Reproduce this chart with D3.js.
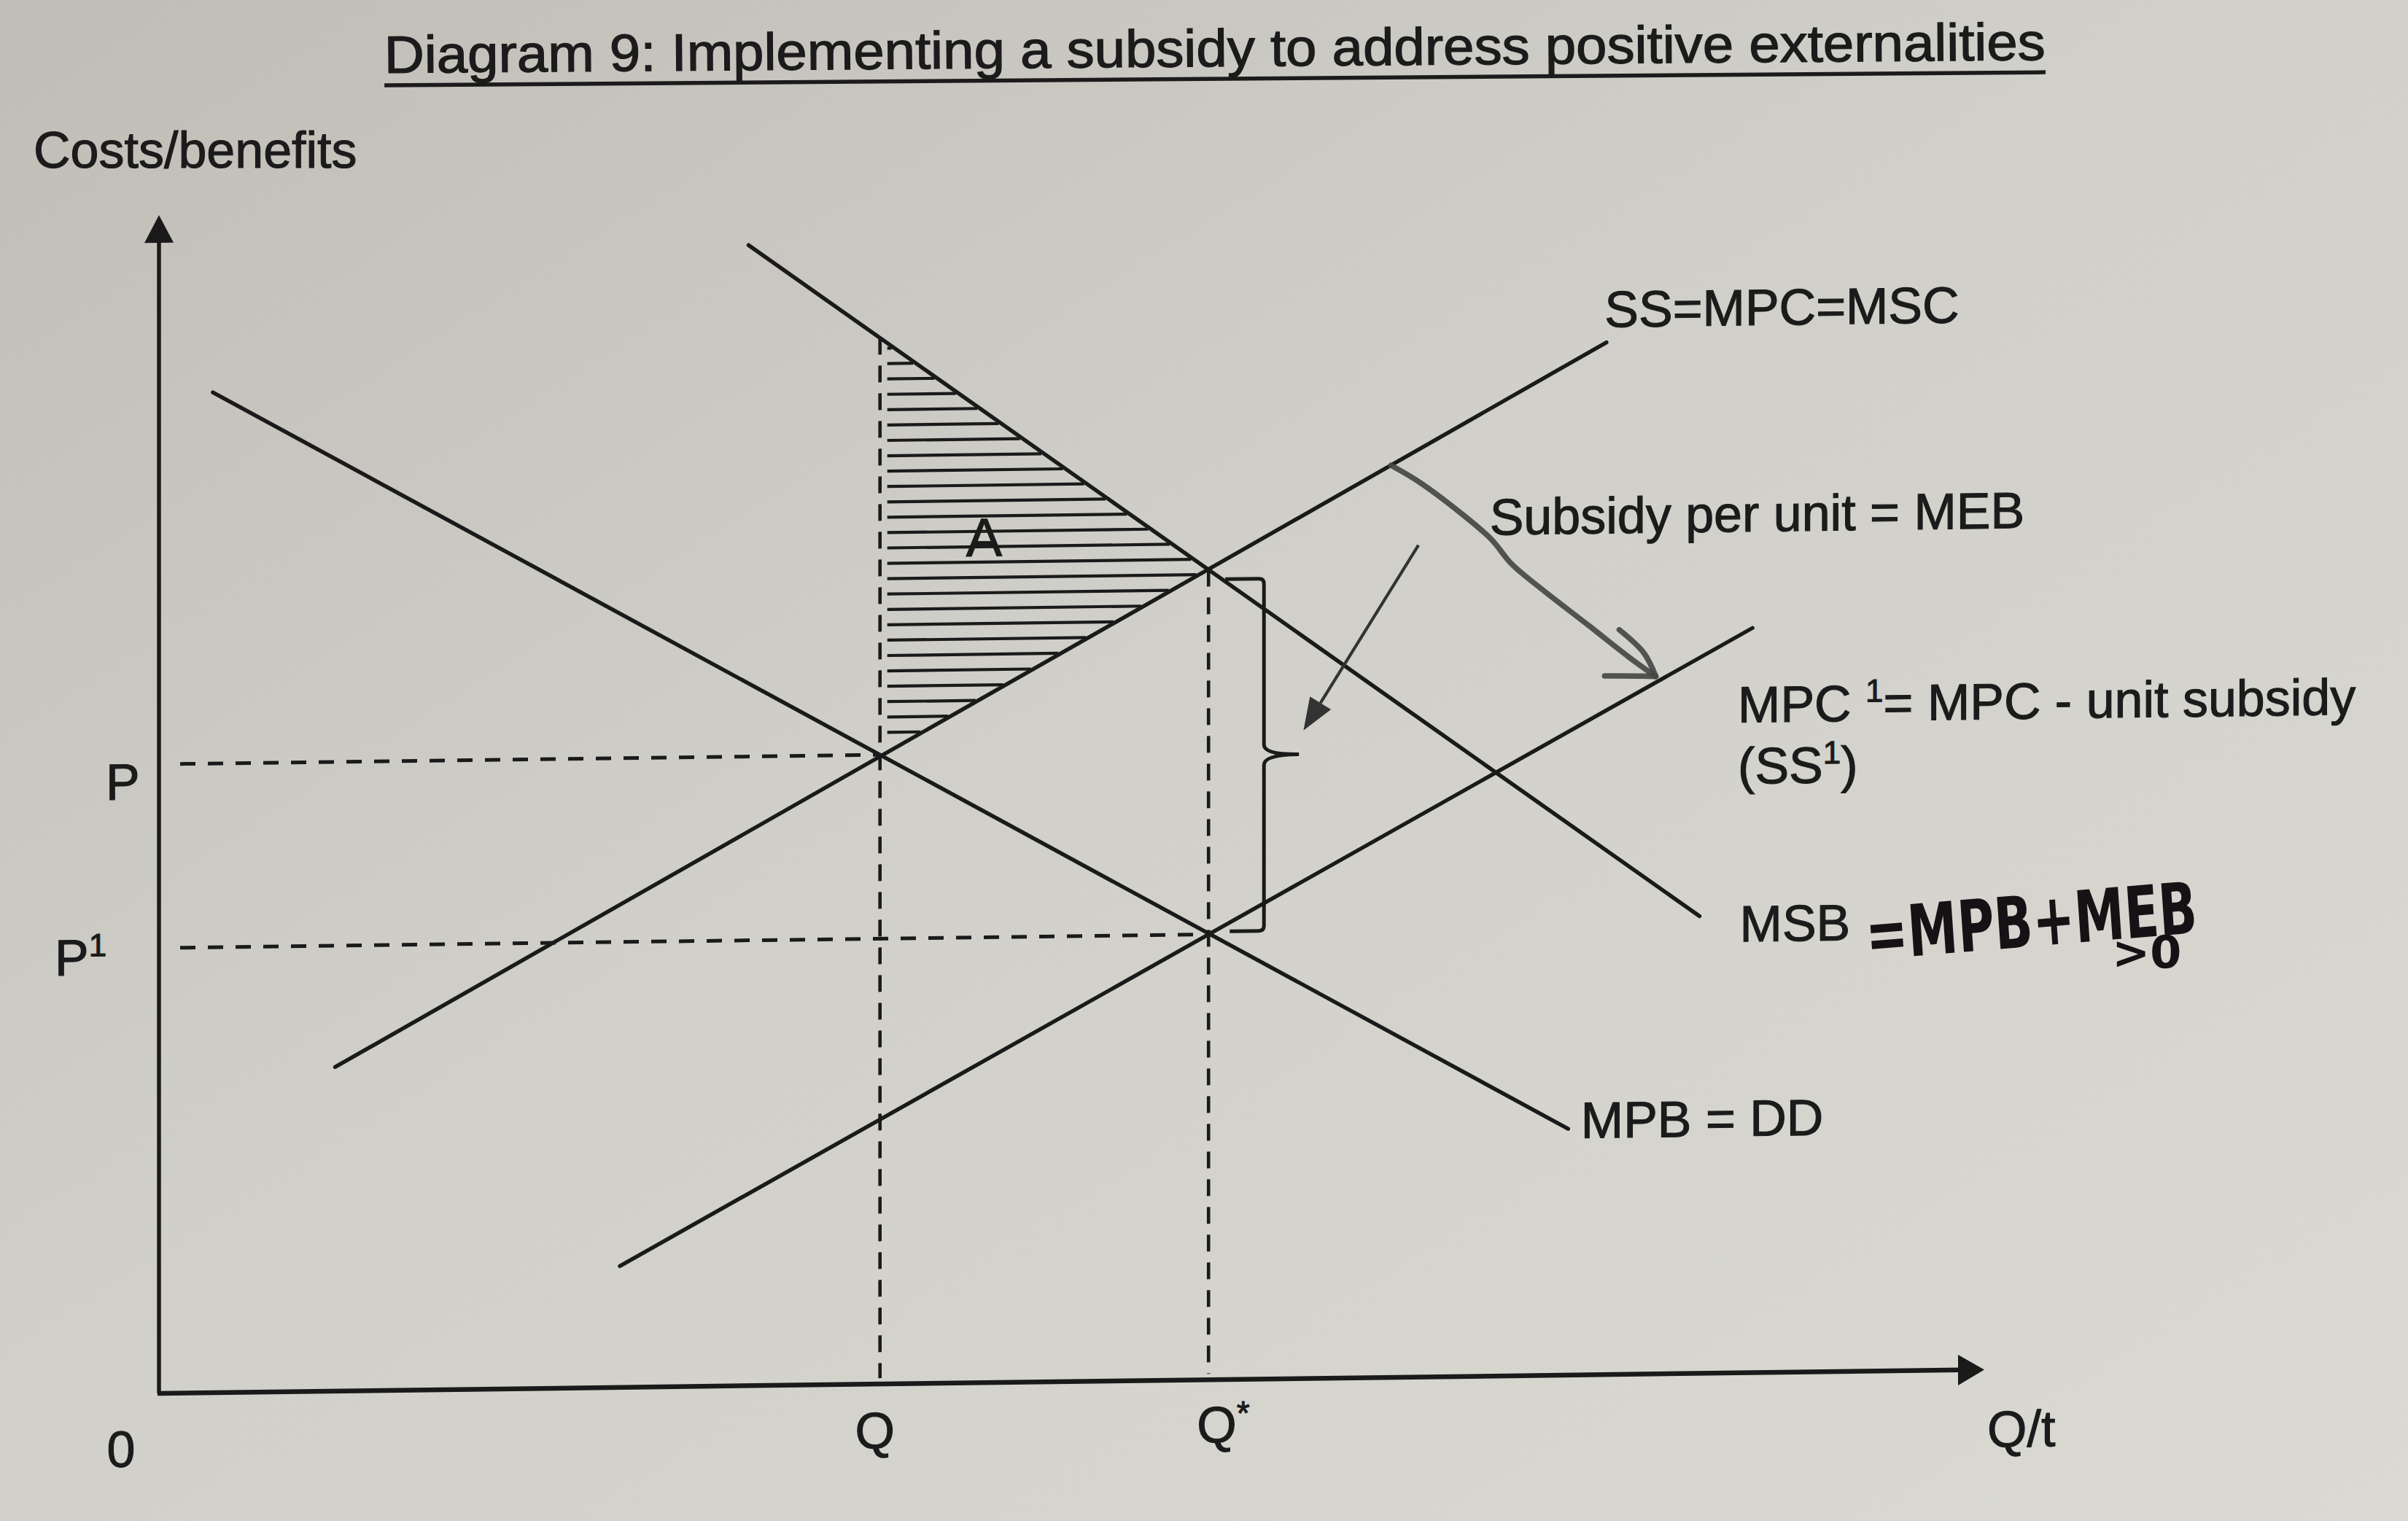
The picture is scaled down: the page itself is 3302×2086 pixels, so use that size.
<!DOCTYPE html>
<html><head><meta charset="utf-8">
<script src="https://cdn.jsdelivr.net/npm/d3@7"></script>
<style>html,body{margin:0;padding:0;background:#d0cec8;} svg{display:block;}</style>
</head><body>
<svg id="c" width="3302" height="2086"></svg>
<script>
// ---------------- data (axis units 0..100) ----------------
const curveNames   = ["MPB = DD", "MSB", "SS=MPC=MSC", "MPC1"];
const curveStartQ  = [2.95, 32.3, 9.65, 25.25];
const curveStartP  = [84.9, 96.8, 27.5, 10.3];
const curveEndQ    = [77.2, 84.4, 79.3, 87.3];
const curveEndP    = [20.9, 38.8, 87.6, 63.2];
const quantityNames  = ["Q", "Q*"];
const quantityValues = [39.5, 57.5];
const priceNames   = ["P", "P1"];
const priceValues  = [53.4, 37.8];
const hatchFrom = 55.3, hatchStep = 1.304;   // hatching rows of area A
const subsidyCurve = [[67.5,77.4],[69.0,76.0],[71.3,73.3],[73.0,71.0],[74.1,68.9],[75.7,66.8],[78.4,63.5],[80.5,60.9],[82.0,59.2]];
const subsidyHeadArms = [[80.0,63.2],[79.2,59.3]];
const pointerArrow = [[69.0,70.6],[62.7,55.0]];

// ---------------- setup ----------------
const W = 3302, H = 2086;
const FONT = "'Liberation Sans', Arial, Helvetica, sans-serif";
const INK = "#1a1a1a";
const svg = d3.select("#c");
const defs = svg.append("defs");
const grad = defs.append("linearGradient").attr("id","paper")
  .attr("x1","0").attr("y1","0").attr("x2","1").attr("y2","1");
grad.append("stop").attr("offset","0").attr("stop-color","#c0bdb6");
grad.append("stop").attr("offset","0.45").attr("stop-color","#d0cfc9");
grad.append("stop").attr("offset","1").attr("stop-color","#dadad3");
svg.append("rect").attr("width",W).attr("height",H).attr("fill","url(#paper)");

const xs = d3.scaleLinear().domain([0,100]).range([0,2503]);
const ys = d3.scaleLinear().domain([0,100]).range([0,-1616]);
const g = svg.append("g").attr("transform","translate(218,1911) skewY(-0.745)");

const yOn = (i,q) => curveStartP[i] + (curveEndP[i]-curveStartP[i])*(q-curveStartQ[i])/(curveEndQ[i]-curveStartQ[i]);
const qOn = (i,p) => curveStartQ[i] + (curveEndQ[i]-curveStartQ[i])*(p-curveStartP[i])/(curveEndP[i]-curveStartP[i]);
const Q = quantityValues[0], Qs = quantityValues[1];

// ---------------- hatching (area A) ----------------
const hatchTop = yOn(1,Q) - 0.4;
const hatchRows = d3.range(hatchFrom, hatchTop, hatchStep)
  .map(p => ({p, x0: Q + 0.4, x1: Math.min(qOn(1,p), qOn(2,p)) - 0.15}))
  .filter(d => d.x1 > d.x0);
g.selectAll("line.hatch").data(hatchRows).join("line").attr("class","hatch")
  .attr("x1",d=>xs(d.x0)).attr("x2",d=>xs(d.x1))
  .attr("y1",d=>ys(d.p)).attr("y2",d=>ys(d.p))
  .attr("stroke",INK).attr("stroke-width",4.2);

// ---------------- dashed guide lines ----------------
g.selectAll("line.ph").data(priceValues).join("line").attr("class","ph")
  .attr("x1",xs(0)+29).attr("x2",(d,i)=>xs(quantityValues[i]))
  .attr("y1",d=>ys(d)).attr("y2",d=>ys(d))
  .attr("stroke",INK).attr("stroke-width",5).attr("stroke-dasharray","21,17");
g.selectAll("line.qv").data(quantityValues).join("line").attr("class","qv")
  .attr("x1",d=>xs(d)).attr("x2",d=>xs(d))
  .attr("y1",d=>ys(yOn(1,d))).attr("y2",ys(0)-8)
  .attr("stroke",INK).attr("stroke-width",4.6).attr("stroke-dasharray","23,15");

// ---------------- curves ----------------
g.selectAll("line.curve").data(d3.range(curveNames.length)).join("line").attr("class","curve")
  .attr("x1",i=>xs(curveStartQ[i])).attr("y1",i=>ys(curveStartP[i]))
  .attr("x2",i=>xs(curveEndQ[i])).attr("y2",i=>ys(curveEndP[i]))
  .attr("stroke",INK).attr("stroke-width",5.4).attr("stroke-linecap","round");

// ---------------- axes ----------------
g.append("line").attr("x1",xs(0)).attr("y1",ys(0)).attr("x2",xs(0)).attr("y2",ys(100)+30)
  .attr("stroke",INK).attr("stroke-width",5.5);
g.append("path").attr("d",`M${xs(0)},${ys(100)} L${xs(0)-20},${ys(100)+38} L${xs(0)+20},${ys(100)+38} Z`).attr("fill",INK);
g.append("line").attr("x1",xs(0)-2).attr("y1",ys(0)).attr("x2",xs(100)-30).attr("y2",ys(0))
  .attr("stroke",INK).attr("stroke-width",6.5);
g.append("path").attr("d",`M${xs(100)},${ys(0)} L${xs(100)-36},${ys(0)-21} L${xs(100)-36},${ys(0)+21} Z`).attr("fill",INK);

// ---------------- bracket ----------------
const xb = xs(Qs)+76, yT = ys(yOn(2,Qs))+14, yB = ys(yOn(3,Qs))-4, yM = (yT+yB)/2;
g.append("path").attr("fill","none").attr("stroke",INK).attr("stroke-width",5)
  .attr("d",`M${xb-53},${yT} L${xb-7},${yT} Q${xb},${yT} ${xb},${yT+7} L${xb},${yM-14} Q${xb},${yM} ${xb+48},${yM} Q${xb},${yM} ${xb},${yM+14} L${xb},${yB-7} Q${xb},${yB} ${xb-7},${yB} L${xb-47},${yB}`);

// ---------------- pointer arrow ----------------
{
  const [s,t] = pointerArrow;
  const sx=xs(s[0]), sy=ys(s[1]), tx=xs(t[0]), ty=ys(t[1]);
  const L=Math.hypot(tx-sx,ty-sy), ux=(tx-sx)/L, uy=(ty-sy)/L;
  const bx=tx-ux*44, by=ty-uy*44;
  g.append("line").attr("x1",sx).attr("y1",sy).attr("x2",bx).attr("y2",by)
    .attr("stroke","#333").attr("stroke-width",4.2);
  g.append("path").attr("fill","#333")
    .attr("d",`M${tx},${ty} L${bx-uy*17},${by+ux*17} L${bx+uy*17},${by-ux*17} Z`);
}

// ---------------- hand-drawn subsidy arrow ----------------
const penLine = d3.line().x(d=>xs(d[0])).y(d=>ys(d[1])).curve(d3.curveCatmullRom);
g.append("path").attr("d",penLine(subsidyCurve)).attr("fill","none")
  .attr("stroke","#474747").attr("stroke-width",7.5).attr("stroke-linecap","round").attr("opacity",0.92);
const tip = subsidyCurve[subsidyCurve.length-1];
g.selectAll("path.arm").data(subsidyHeadArms).join("path").attr("class","arm")
  .attr("d",d=>penLine([d,[ (d[0]+tip[0])/2+0.35, (d[1]+tip[1])/2 ], tip]))
  .attr("fill","none").attr("stroke","#474747").attr("stroke-width",7.5).attr("stroke-linecap","round").attr("opacity",0.92);

// ---------------- labels in plot frame ----------------
const lab = (x,y,txt,size,anchor) => g.append("text").attr("x",x).attr("y",y)
  .attr("font-family",FONT).attr("font-size",size||70).attr("fill","#1b1b1b")
  .attr("stroke","#1b1b1b").attr("stroke-width",1.1)
  .attr("text-anchor",anchor||"start").text(txt);

lab(xs(45.2), ys(71.7)+25, "A", 74, "middle");
lab(xs(79.2), ys(88.9), curveNames[2]);
lab(xs(72.9), ys(71.4), "Subsidy per unit = MEB");
{
  const t = lab(xs(86.5), ys(55.2), "MPC ");
  t.append("tspan").attr("font-size",44).attr("dy",-26).text("1");
  t.append("tspan").attr("dy",26).text("= MPC - unit subsidy");
  const t2 = lab(xs(86.5), ys(50.0), "(SS");
  t2.append("tspan").attr("font-size",44).attr("dy",-26).text("1");
  t2.append("tspan").attr("dy",26).text(")");
}
lab(xs(86.6), ys(36.6), "MSB");
g.append("text").attr("x",xs(93.6)).attr("y",ys(34.9))
  .attr("transform",`rotate(-4,${xs(93.6)},${ys(34.9)})`)
  .attr("font-family","'DejaVu Sans', sans-serif").attr("font-weight","bold")
  .attr("font-size",98).attr("fill","#141214")
  .attr("textLength",455).attr("lengthAdjust","spacingAndGlyphs").text("=MPB+MEB");
g.append("text").attr("x",xs(107)).attr("y",ys(33.9))
  .attr("font-family","'DejaVu Sans', sans-serif").attr("font-weight","bold")
  .attr("font-size",62).attr("fill","#141214").text(">0");
lab(xs(77.9), ys(20.1), curveNames[0]);

// axis labels
lab(xs(0)-52, ys(0)+100, "0", 70, "middle");
lab(xs(Q)-7, ys(0)+88, quantityNames[0], 70, "middle");
{
  const t = lab(xs(Qs)-16, ys(0)+86, "Q");
  t.append("tspan").attr("font-size",46).attr("dy",-24).text("*");
}
lab(xs(100)+4, ys(0)+106, "Q/t");
lab(xs(0)-73, ys(priceValues[0])+48, priceNames[0]);
{
  const t = lab(xs(0)-143, ys(priceValues[1])+36, "P");
  t.append("tspan").attr("font-size",44).attr("dy",-26).text("1");
}

// ---------------- title and y label ----------------
const tg = svg.append("g").attr("transform","rotate(-0.45,527,100)");
tg.append("text").attr("x",527).attr("y",100).attr("font-family",FONT).attr("font-size",72)
  .attr("fill","#1b1b1b").attr("stroke","#1b1b1b").attr("stroke-width",1.3)
  .attr("textLength",2278).attr("lengthAdjust","spacingAndGlyphs")
  .text("Diagram 9: Implementing a subsidy to address positive externalities");
tg.append("line").attr("x1",527).attr("x2",2805).attr("y1",117).attr("y2",117)
  .attr("stroke","#1b1b1b").attr("stroke-width",5.5);
svg.append("text").attr("x",46).attr("y",230).attr("font-family",FONT).attr("font-size",70)
  .attr("fill","#1b1b1b").attr("stroke","#1b1b1b").attr("stroke-width",1.1).text("Costs/benefits");
</script>
</body></html>
